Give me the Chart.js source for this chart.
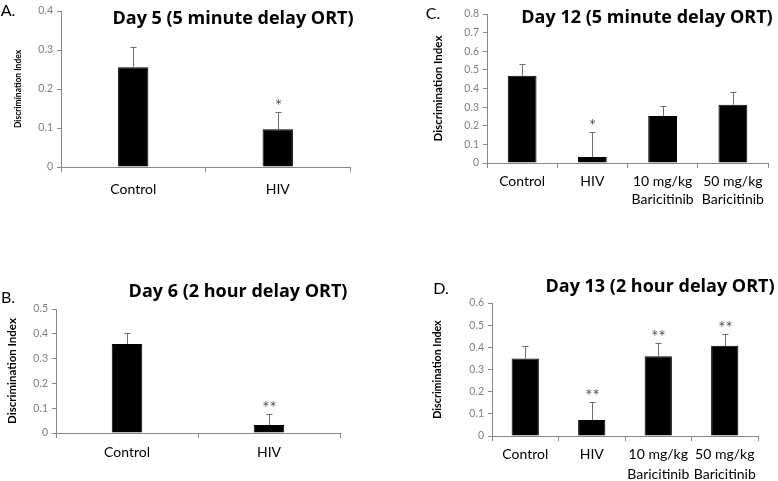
<!DOCTYPE html>
<html>
<head>
<meta charset="utf-8">
<script src="https://cdn.jsdelivr.net/npm/chart.js@4.4.1/dist/chart.umd.min.js"></script>
<style>
  body { margin: 0; background: #fff; }
  #page { position: relative; width: 778px; height: 481px; overflow: hidden; background: #fff; }
  canvas { position: absolute; left: 0; top: 0; }
  .title, .tag { position: absolute; white-space: nowrap; color: #000; transform: translate(-50%, -50%); line-height: 1; }
  .title { font-family: "Open Sans", sans-serif; font-weight: bold; font-size: 18px; }
  .tag { font-family: Lato, sans-serif; font-size: 16px; }
</style>
</head>
<body>
<div id="page">
  <canvas id="chartA" width="778" height="481"></canvas>
  <canvas id="chartB" width="778" height="481"></canvas>
  <canvas id="chartC" width="778" height="481"></canvas>
  <canvas id="chartD" width="778" height="481"></canvas>

  <div class="tag" style="left:8px; top:10px">A.</div>
  <div class="tag" style="left:8px; top:297px">B.</div>
  <div class="tag" style="left:433px; top:13px">C.</div>
  <div class="tag" style="left:441px; top:288px">D.</div>

  <div class="title" style="left:233px; top:17px">Day 5 (5 minute delay ORT)</div>
  <div class="title" style="left:238px; top:290px">Day 6 (2 hour delay ORT)</div>
  <div class="title" style="left:647px; top:16px">Day 12 (5 minute delay ORT)</div>
  <div class="title" style="left:660px; top:285px">Day 13 (2 hour delay ORT)</div>
</div>
<script>
// groups
const twoGroups = ["Control", "HIV"];
const fourGroups = ["Control", "HIV", ["10 mg/kg", "Baricitinib"], ["50 mg/kg", "Baricitinib"]];

// discrimination index means and upper error (SEM)
const day5Means = [0.256, 0.097];
const day5Errors = [0.052, 0.044];
const day5Stars = ["", "*"];

const day6Means = [0.359, 0.032];
const day6Errors = [0.043, 0.045];
const day6Stars = ["", "**"];

const day12Means = [0.469, 0.032, 0.252, 0.313];
const day12Errors = [0.061, 0.132, 0.052, 0.068];
const day12Stars = ["", "*", "", ""];

const day13Means = [0.350, 0.072, 0.360, 0.407];
const day13Errors = [0.055, 0.081, 0.060, 0.051];
const day13Stars = ["", "**", "**", "**"];

// y axis maxima (step 0.1)
const day5Max = 0.4;
const day6Max = 0.5;
const day12Max = 0.8;
const day13Max = 0.6;

Chart.defaults.font.family = "Lato, sans-serif";

const axisGray = "#868686";

// upper error whiskers + significance stars
const errorBars = {
    id: "errorBars",
    afterDatasetsDraw(chart, args, opts) {
        const ctx = chart.ctx;
        const y = chart.scales.y;
        const means = chart.data.datasets[0].data;
        chart.getDatasetMeta(0).data.forEach((bar, i) => {
            const x = Math.round(bar.x) + 0.5;
            const base = y.getPixelForValue(means[i]);
            const top = Math.round(y.getPixelForValue(means[i] + opts.errors[i])) + 0.5;
            ctx.save();
            ctx.strokeStyle = "#6e6e6e";
            ctx.lineWidth = 1;
            ctx.beginPath();
            ctx.moveTo(x, base);
            ctx.lineTo(x, top);
            ctx.moveTo(x - 3, top);
            ctx.lineTo(x + 3, top);
            ctx.stroke();
            if (opts.stars[i]) {
                ctx.fillStyle = "#555";
                ctx.font = "17px Lato, sans-serif";
                ctx.textAlign = "center";
                ctx.textBaseline = "alphabetic";
                ctx.fillText(opts.stars[i], x, top - 1);
            }
            ctx.restore();
        });
    }
};

function drawPanel(id, labels, means, errors, stars, yMax, box) {
    return new Chart(document.getElementById(id), {
        type: "bar",
        data: {
            labels: labels,
            datasets: [{
                data: means,
                backgroundColor: "#000",
                borderColor: "#000",
                borderWidth: 1,
                barPercentage: box.bar,
                categoryPercentage: 1
            }]
        },
        options: {
            responsive: false,
            animation: false,
            layout: {
                padding: { left: box.padLeft, top: box.top, right: 778 - box.right, bottom: 0 }
            },
            plugins: {
                legend: { display: false },
                tooltip: { enabled: false },
                errorBars: { errors: errors, stars: stars }
            },
            scales: {
                x: {
                    grid: { drawOnChartArea: false, tickLength: 5, color: axisGray },
                    border: { color: axisGray },
                    ticks: {
                        color: "#000",
                        font: { size: 14, lineHeight: box.lineHeight },
                        padding: box.xPad,
                        maxRotation: 0,
                        autoSkip: false
                    },
                    afterFit: s => { s.height = 481 - box.bottom; }
                },
                y: {
                    min: 0,
                    max: yMax,
                    grid: { drawOnChartArea: false, tickLength: 4, color: axisGray },
                    border: { color: axisGray },
                    ticks: {
                        stepSize: 0.1,
                        color: "#7f7f7f",
                        font: { size: 10.5 },
                        padding: 4,
                        callback: v => v === 0 ? "0" : v.toFixed(1)
                    },
                    title: {
                        display: true,
                        text: "Discrimination Index",
                        color: "#000",
                        padding: 0,
                        font: { size: box.yFont, weight: "bold" }
                    },
                    afterFit: s => { s.width = box.left - box.padLeft; }
                }
            }
        },
        plugins: [errorBars]
    });
}

drawPanel("chartA", twoGroups, day5Means, day5Errors, day5Stars, day5Max,
    { left: 61, right: 350, top: 11, bottom: 167, padLeft: 13, yFont: 8.5, bar: 0.21, xPad: 9, lineHeight: 1.2 });

drawPanel("chartB", twoGroups, day6Means, day6Errors, day6Stars, day6Max,
    { left: 56, right: 340, top: 309, bottom: 433, padLeft: 5, yFont: 11.5, bar: 0.215, xPad: 6, lineHeight: 1.2 });

drawPanel("chartC", fourGroups, day12Means, day12Errors, day12Stars, day12Max,
    { left: 487, right: 768, top: 14, bottom: 163, padLeft: 431, yFont: 11.5, bar: 0.41, xPad: 5, lineHeight: 1.25 });

drawPanel("chartD", fourGroups, day13Means, day13Errors, day13Stars, day13Max,
    { left: 492, right: 758, top: 303, bottom: 436, padLeft: 431, yFont: 10.7, bar: 0.41, xPad: 4, lineHeight: 1.42 });
</script>
</body>
</html>
